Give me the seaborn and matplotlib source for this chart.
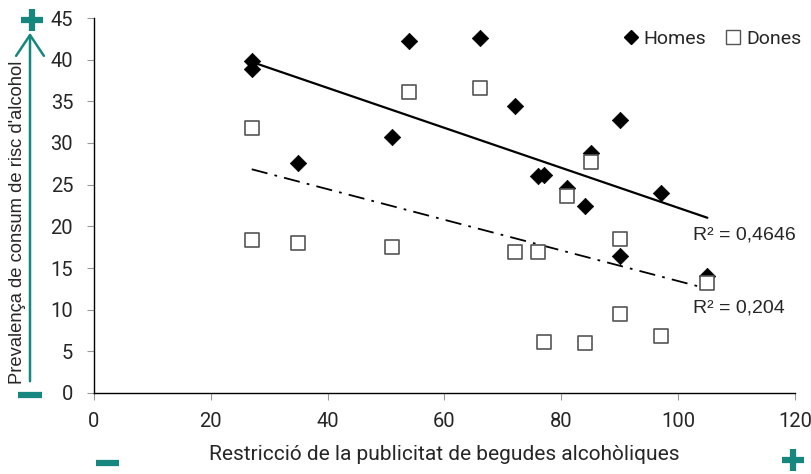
import numpy as np
import pandas as pd
import seaborn as sns
import matplotlib
matplotlib.use("Agg")
import matplotlib.pyplot as plt
from matplotlib.lines import Line2D
from matplotlib.patches import FancyArrowPatch

# ---- data ----
restriccio = [27, 27, 35, 51, 54, 66, 72, 76, 77, 81, 84, 85, 90, 90, 97, 105]
homes = [39.8, 38.9, 27.6, 30.7, 42.2, 42.6, 34.4, 26.0, 26.1, 24.6, 22.5, 28.8, 32.7, 16.5, 24.0, 14.0]
dones = [31.8, 18.4, 18.0, 17.5, 36.1, 36.6, 16.9, 16.9, 6.1, 23.6, 6.0, 27.7, 18.5, 9.5, 6.9, 13.2]
r2_homes = "R² = 0,4646"
r2_dones = "R² = 0,204"
xticks = [0, 20, 40, 60, 80, 100, 120]
yticks = [0, 5, 10, 15, 20, 25, 30, 35, 40, 45]
xlabel = "Restricció de la publicitat de begudes alcohòliques"
ylabel = "Prevalença de consum de risc d'alcohol"

df_h = pd.DataFrame({"x": restriccio, "y": homes})
df_d = pd.DataFrame({"x": restriccio, "y": dones})

sns.set_theme(style="white")
plt.rcParams["font.family"] = ["Roboto", "DejaVu Sans"]

W, H = 812, 474
fig = plt.figure(figsize=(W / 100, H / 100), dpi=100)
ax = fig.add_axes([94 / W, 1 - 393 / H, (795 - 94) / W, (393 - 18) / H])

teal = "#16877f"

# regression lines
sns.regplot(data=df_h, x="x", y="y", ax=ax, scatter=False, ci=None,
            line_kws=dict(color="black", lw=1.6, zorder=2))
sns.regplot(data=df_d, x="x", y="y", ax=ax, scatter=False, ci=None,
            line_kws=dict(color="black", lw=1.3, linestyle=(0, (9, 4, 1.5, 4)), zorder=2))

# points
sns.scatterplot(data=df_h, x="x", y="y", ax=ax, marker="D", s=70,
                color="black", edgecolor="black", linewidth=0.5, zorder=3)
sns.scatterplot(data=df_d, x="x", y="y", ax=ax, marker="s", s=110,
                color="white", edgecolor="#555555", linewidth=1.2, zorder=4)

rfam = ["Liberation Sans", "DejaVu Sans"]
ax.text(102.6, 19.0, r2_homes, fontsize=14, va="center", ha="left", family=rfam)
ax.text(102.6, 10.2, r2_dones, fontsize=14, va="center", ha="left", family=rfam)

ax.set_xlim(0, 120)
ax.set_ylim(0, 45)
ax.set_xticks(xticks)
ax.set_yticks(yticks)
ax.tick_params(axis="both", labelsize=14.5, length=5, width=0.8, color="#999999",
               direction="out", bottom=True, left=True)
ax.tick_params(axis="y", pad=10)
ax.tick_params(axis="x", pad=9)
ax.set_xlabel(xlabel, fontsize=15, labelpad=10)
ax.set_ylabel("")
for s in ["top", "right"]:
    ax.spines[s].set_visible(False)
for s in ["left", "bottom"]:
    ax.spines[s].set_color("black")
    ax.spines[s].set_linewidth(1.0)

handles = [Line2D([], [], marker="D", color="black", ls="none", markersize=7.5),
           Line2D([], [], marker="s", color="#555555", markerfacecolor="white",
                  ls="none", markersize=10, markeredgewidth=1.0)]
ax.legend(handles, ["Homes", "Dones"], ncol=2, frameon=False, fontsize=14,
          loc="upper right", bbox_to_anchor=(1.034, 1.014), handletextpad=0.15,
          columnspacing=0.9, handlelength=1.0)

# y label (figure text)
fig.text(18 / W, 1 - 222 / H, ylabel, rotation=90, fontsize=13.2,
         ha="center", va="center", family=["Liberation Sans", "DejaVu Sans"])


def px(x, y):
    return (x / W, 1 - y / H)


def bar(x0, y0, x1, y1, lw=5):
    a, b = px(x0, y0)
    c, d = px(x1, y1)
    fig.add_artist(Line2D([a, c], [b, d], transform=fig.transFigure,
                          color=teal, lw=lw, solid_capstyle="butt"))


# arrow
arr = FancyArrowPatch(px(30, 384), px(30, 30), transform=fig.transFigure,
                      arrowstyle="->,head_length=6,head_width=4", color=teal,
                      lw=1.8, mutation_scale=2.5)
fig.add_artist(arr)
# top plus
bar(21, 20, 43, 20, 4.5)
bar(32, 9, 32, 31, 4.5)
# left minus
bar(18, 395, 42, 395, 4.5)
# bottom minus
bar(96, 463, 119, 463, 4.5)
# bottom plus
bar(782, 460, 804, 460, 4.5)
bar(793, 449, 793, 471, 4.5)

fig.savefig("out.png", dpi=100)
